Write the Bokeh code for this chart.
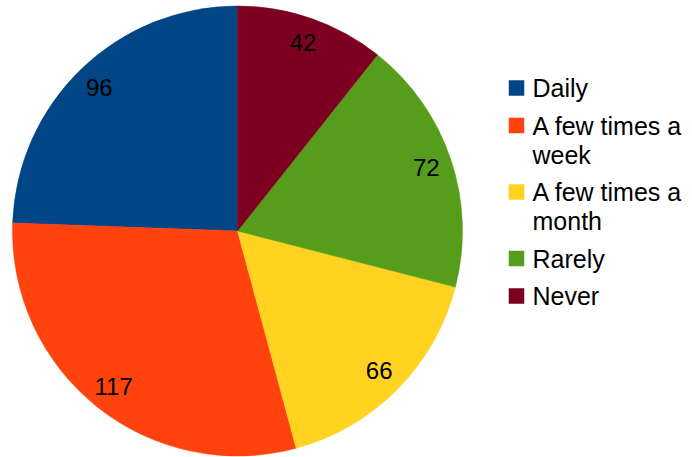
import numpy as np
from bokeh.plotting import figure
from bokeh.models import ColumnDataSource, Range1d
from bokeh.embed import file_html
from bokeh.resources import INLINE
from bokeh.core.properties import value

# ---- data ----
categories = ["Daily", "A few times a\nweek", "A few times a\nmonth", "Rarely", "Never"]
values = [96, 117, 66, 72, 42]
colors = ["#004586", "#ff420e", "#ffd320", "#579d1c", "#7e0021"]

# ---- layout (pixel coordinates, y flipped) ----
W, H = 692, 457
FONT = "Liberation Sans"
p = figure(width=W, height=H, output_backend="svg", toolbar_location=None,
           x_range=Range1d(0, W), y_range=Range1d(-H, 0),
           min_border=0, background_fill_color="white", border_fill_color="white")
p.axis.visible = False
p.grid.visible = False
p.outline_line_color = None

cx, cy, r = 237.0, -230.5, 225.0
vals = np.array(values, dtype=float)
frac = vals / vals.sum()
ends = np.pi / 2 + 2 * np.pi * np.cumsum(frac)
starts = ends - 2 * np.pi * frac
mids = (starts + ends) / 2

src = ColumnDataSource(dict(start=starts, end=ends, color=colors))
p.wedge(x=cx, y=cy, radius=r, start_angle="start", end_angle="end",
        fill_color="color", line_color="color", line_width=0.5, source=src)

lab_fs = 24
lab_r = 0.885 * r
lsrc = ColumnDataSource(dict(
    x=cx + lab_r * np.cos(mids),
    y=cy + lab_r * np.sin(mids),
    t=[str(v) for v in values]))
p.text(x="x", y="y", text="t", source=lsrc, text_font=value(FONT),
       text_font_size=f"{lab_fs}px", text_align="center",
       text_baseline="middle", text_color="black")

# ---- legend ----
leg_fs = 25
sq = 15.5
sq_x = 516
tx = 532
y = 87.5
line_step = 29
entry_step = 37.5
sq_y, sq_c, tl_y, tl_t = [], [], [], []
for cat, col in zip(categories, colors):
    lines = cat.split("\n")
    sq_y.append(-y)
    sq_c.append(col)
    yy = y
    for ln in lines:
        tl_y.append(-yy)
        tl_t.append(ln)
        yy += line_step
    y += entry_step + line_step * (len(lines) - 1)

p.rect(x=sq_x, y=sq_y, width=sq, height=sq, fill_color=sq_c, line_color=None)
p.text(x=tx, y=tl_y, text=tl_t, text_font=value(FONT), text_font_size=f"{leg_fs}px",
       text_align="left", text_baseline="middle", text_color="black")

open("out.html", "w").write(file_html(p, INLINE))
